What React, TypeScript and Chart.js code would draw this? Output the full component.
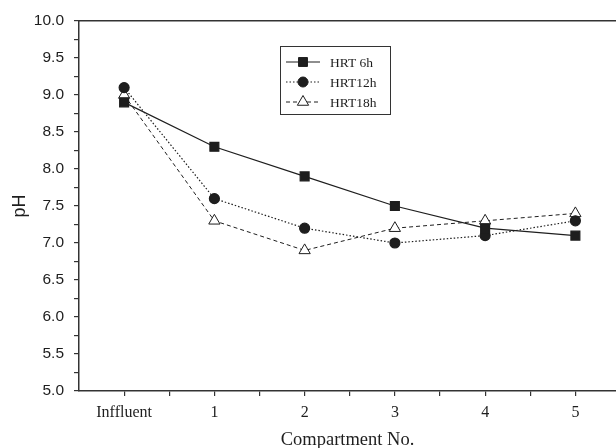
import React, { useEffect, useRef } from 'react';
import { Chart, registerables } from 'chart.js';

Chart.register(...registerables);

const categories = ['Inffluent', '1', '2', '3', '4', '5'];
const seriesNames = ['HRT 6h', 'HRT12h', 'HRT18h'];
const hrt6 = [8.9, 8.3, 7.9, 7.5, 7.2, 7.1];
const hrt12 = [9.1, 7.6, 7.2, 7.0, 7.1, 7.3];
const hrt18 = [9.0, 7.3, 6.9, 7.2, 7.3, 7.4];
const yMin = 5.0;
const yMax = 10.0;
const yMajorStep = 0.5;
const yMinorStep = 0.25;

const INK = '#1e1e1e';
const AXIS = '#333333';

const toPoints = (vals: number[]) => vals.map((v, i) => ({ x: i, y: v }));

const legendPlugin = {
  id: 'boxLegend',
  afterDatasetsDraw(chart: any) {
    const ctx = chart.ctx;
    const box = { x: 280, y: 46, w: 110, h: 68 };
    ctx.save();
    ctx.strokeStyle = AXIS;
    ctx.lineWidth = 1;
    ctx.fillStyle = '#fff';
    ctx.fillRect(box.x, box.y, box.w, box.h);
    ctx.strokeRect(box.x + 0.5, box.y + 0.5, box.w, box.h);
    chart.data.datasets.forEach((ds: any, i: number) => {
      const cy = 62 + i * 20;
      const x0 = 286, x1 = 320, mx = 303;
      ctx.beginPath();
      ctx.setLineDash(ds.borderDash || []);
      ctx.strokeStyle = ds.borderColor;
      ctx.lineWidth = ds.borderWidth;
      ctx.moveTo(x0, cy);
      ctx.lineTo(x1, cy);
      ctx.stroke();
      ctx.setLineDash([]);
      ctx.fillStyle = ds.pointBackgroundColor;
      ctx.strokeStyle = ds.pointBorderColor;
      ctx.lineWidth = 1;
      ctx.beginPath();
      if (ds.pointStyle === 'rect') {
        const s = Math.SQRT1_2 * ds.pointRadius;
        ctx.rect(mx - s, cy - s, 2 * s, 2 * s);
      } else if (ds.pointStyle === 'circle') {
        ctx.arc(mx, cy, ds.pointRadius, 0, Math.PI * 2);
      } else {
        const r = ds.pointRadius;
        ctx.moveTo(mx, cy - r);
        ctx.lineTo(mx + r * Math.sin(Math.PI / 3), cy + r * 0.5);
        ctx.lineTo(mx - r * Math.sin(Math.PI / 3), cy + r * 0.5);
        ctx.closePath();
      }
      ctx.fill();
      ctx.stroke();
      ctx.fillStyle = INK;
      ctx.font = '13.5px "Liberation Serif"';
      ctx.textBaseline = 'middle';
      ctx.textAlign = 'left';
      ctx.fillText(ds.label, 330, cy + 1);
    });
    ctx.restore();
  },
};

export default function App() {
  const ref = useRef<HTMLCanvasElement | null>(null);
  useEffect(() => {
    if (!ref.current) return;
    const xTickVals: number[] = [];
    for (let v = 0; v <= categories.length - 1 + 1e-9; v += 0.5) xTickVals.push(v);
    const yTickVals: number[] = [];
    for (let v = yMin; v <= yMax + 1e-9; v += yMinorStep) yTickVals.push(Math.round(v * 100) / 100);

    const chart = new Chart(ref.current, {
      type: 'line',
      data: {
        datasets: [
          {
            label: seriesNames[0],
            data: toPoints(hrt6),
            borderColor: INK,
            borderWidth: 1.2,
            pointStyle: 'rect',
            pointRadius: 6.3,
            pointBackgroundColor: INK,
            pointBorderColor: INK,
            borderDash: [],
          },
          {
            label: seriesNames[1],
            data: toPoints(hrt12),
            borderColor: INK,
            borderWidth: 1.2,
            pointStyle: 'circle',
            pointRadius: 5,
            pointBackgroundColor: INK,
            pointBorderColor: INK,
            borderDash: [1.5, 2],
          },
          {
            label: seriesNames[2],
            data: toPoints(hrt18),
            borderColor: INK,
            borderWidth: 1,
            pointStyle: 'triangle',
            pointRadius: 6.5,
            pointBackgroundColor: '#ffffff',
            pointBorderColor: INK,
            borderDash: [4, 3],
          },
        ] as any,
      },
      options: {
        animation: false,
        responsive: false,
        devicePixelRatio: 1,
        layout: { padding: 0, autoPadding: false },
        plugins: { legend: { display: false }, tooltip: { enabled: false } },
        elements: { line: { tension: 0 }, point: { borderWidth: 1 } },
        scales: {
          x: {
            type: 'linear',
            position: 'bottom',
            min: -0.5,
            max: 5.45,
            afterBuildTicks: (s: any) => {
              s.ticks = xTickVals.map((v) => ({ value: v }));
            },
            afterFit: (s: any) => {
              s.height = 57;
              s.paddingRight = 0;
              s.paddingLeft = 0;
            },
            grid: { display: true, drawOnChartArea: false, drawTicks: true, tickLength: 5, color: AXIS, lineWidth: 1.2 },
            border: { display: true, color: AXIS, width: 1.5 },
            ticks: {
              autoSkip: false,
              maxRotation: 0,
              padding: 7,
              color: INK,
              font: { family: 'Liberation Serif', size: 16 },
              callback: (v: any) => (Number.isInteger(v) ? categories[v] : ''),
            },
            title: {
              display: true,
              text: 'Compartment No.',
              color: INK,
              font: { family: 'Liberation Serif', size: 18.5 },
              padding: { top: 0, bottom: -3 },
            },
          },
          xTop: {
            type: 'linear',
            position: 'top',
            min: -0.5,
            max: 5.45,
            afterBuildTicks: (s: any) => {
              s.ticks = [];
            },
            afterFit: (s: any) => {
              s.height = 21;
              s.paddingRight = 0;
              s.paddingLeft = 0;
            },
            grid: { display: false, drawOnChartArea: false },
            border: { display: true, color: AXIS, width: 1.5 },
            ticks: { display: false },
          },
          y: {
            type: 'linear',
            min: yMin,
            max: yMax,
            afterBuildTicks: (s: any) => {
              s.ticks = yTickVals.map((v) => ({ value: v }));
            },
            afterFit: (s: any) => {
              s.width = 79;
            },
            grid: { display: true, drawOnChartArea: false, drawTicks: true, tickLength: 5, color: AXIS, lineWidth: 1.2 },
            border: { display: true, color: AXIS, width: 1.5 },
            ticks: {
              autoSkip: false,
              padding: 10,
              color: INK,
              font: { family: 'Liberation Sans', size: 15.5 },
              callback: (v: any) => {
                const r = v / yMajorStep;
                return Math.abs(r - Math.round(r)) < 1e-6 ? Number(v).toFixed(1) : '';
              },
            },
            title: {
              display: true,
              text: 'pH',
              color: INK,
              font: { family: 'Liberation Sans', size: 18 },
              padding: { top: 9, bottom: 0 },
            },
          },
        },
      } as any,
      plugins: [legendPlugin],
    });
    return () => chart.destroy();
  }, []);

  return (
    <div style={{ position: 'absolute', left: 0, top: 0, width: 616, height: 448, background: '#fff' }}>
      <canvas ref={ref} width={616} height={448} style={{ display: 'block', width: 616, height: 448 }} />
    </div>
  );
}
